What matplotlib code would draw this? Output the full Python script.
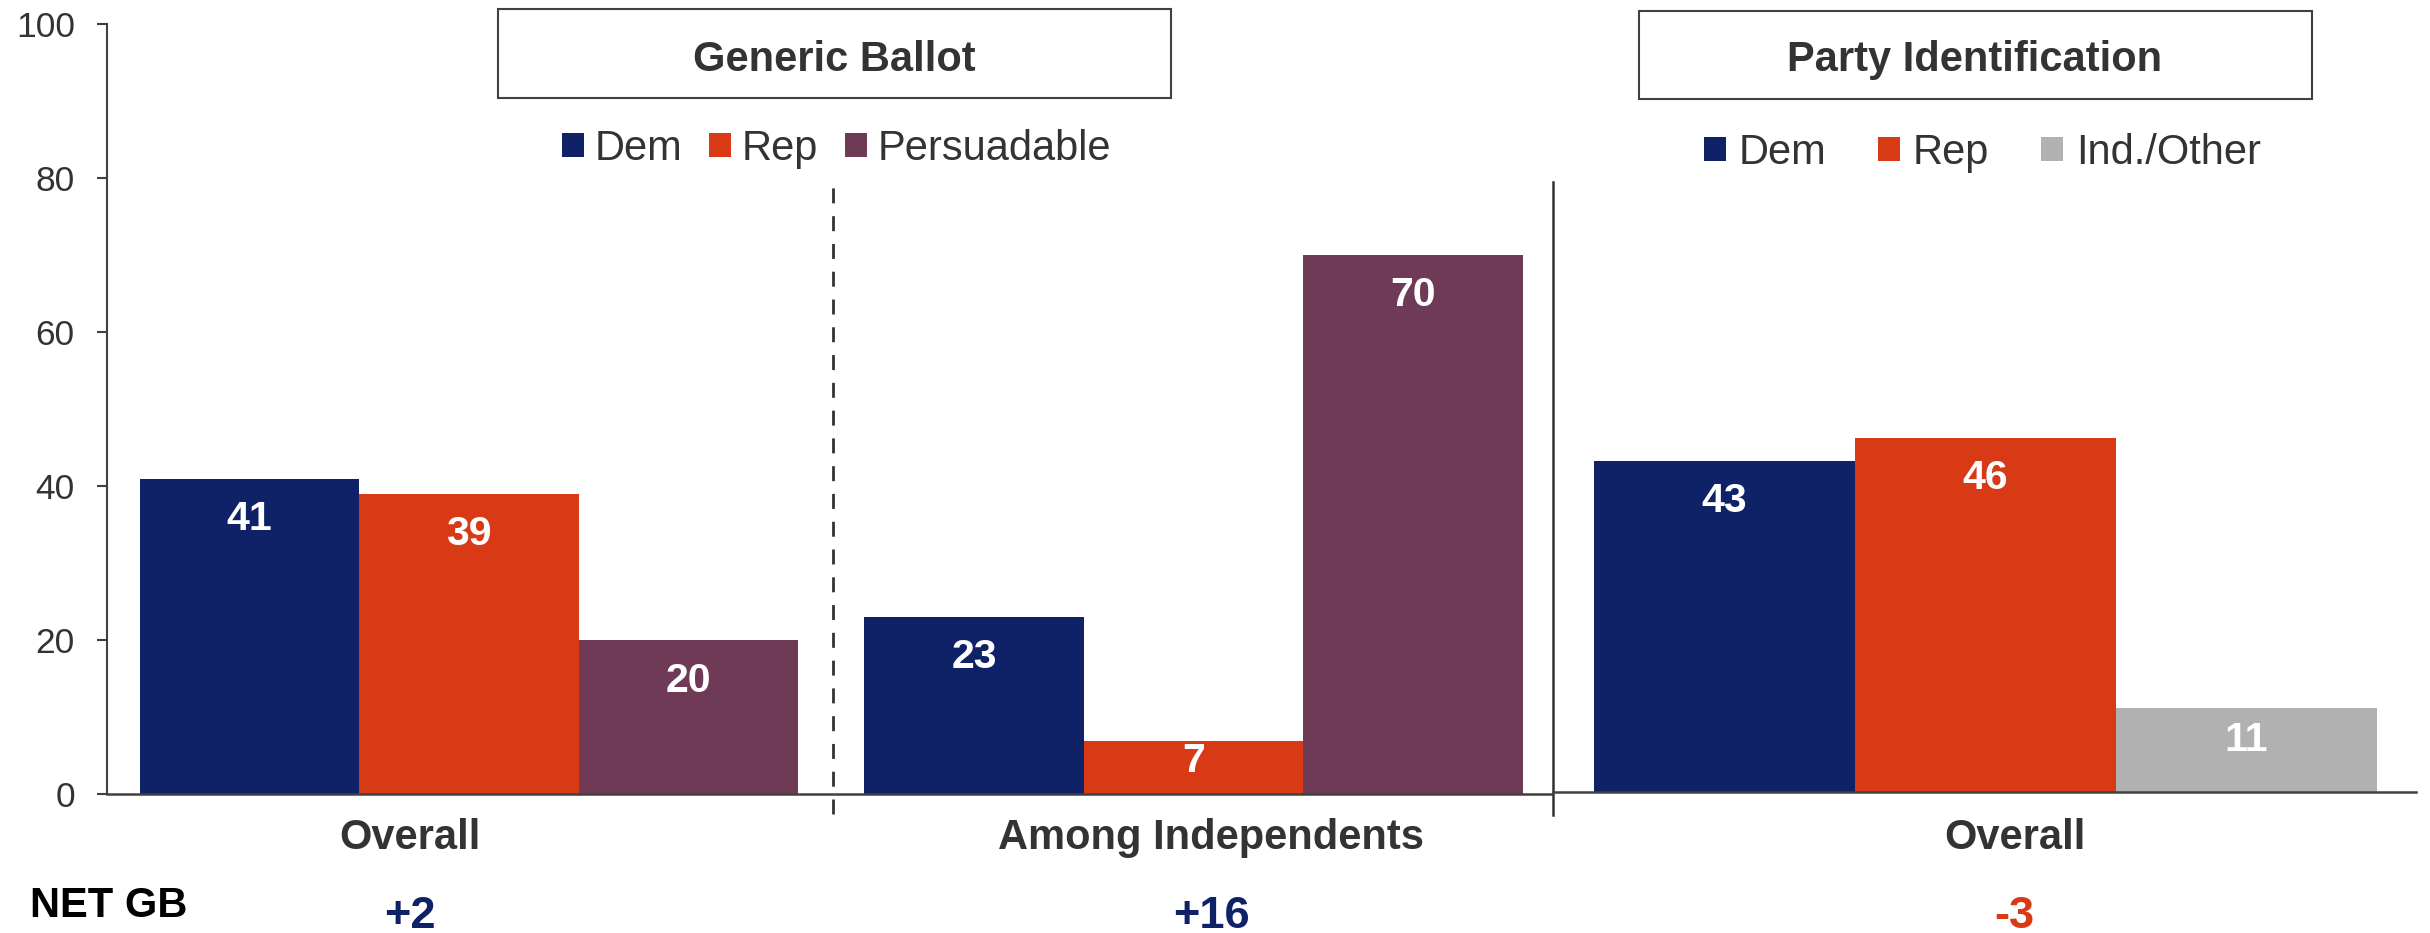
import matplotlib.pyplot as plt
import matplotlib.transforms as mtransforms
from matplotlib.patches import Rectangle
import numpy as np

plt.rcParams['font.family'] = ['Liberation Sans', 'DejaVu Sans']

# Generic ballot panel
gb_categories = ["Overall", "Among Independents"]
gb_series = ["Dem", "Rep", "Persuadable"]
gb_dem = [41, 23]
gb_rep = [39, 7]
gb_persuadable = [20, 70]

# Party identification panel
pid_categories = ["Overall"]
pid_series = ["Dem", "Rep", "Ind./Other"]
pid_dem = [43]
pid_rep = [46]
pid_other = [11]

net_gb = ["+2", "+16", "-3"]

DEM = "#0F2167"
REP = "#D83A16"
PERS = "#6F3A56"
OTHER = "#B1B1B1"
TXT = "#333333"
LINE = "#404040"


def bar_labels(ax, bars, vals):
    for b, v in zip(bars, vals):
        y = v - min(5.2, v * 0.38)
        ax.text(b.get_x() + b.get_width() / 2, y, str(v), ha="center", va="center",
                color="white", fontsize=29.5, fontweight="bold")


fig = plt.figure(figsize=(24.3, 9.33), dpi=100)
ax1 = fig.add_axes([0.04403, 0.14845, 0.59424, 0.82551])
ax2 = fig.add_axes([0.63909, 0.15080, 0.35514, 0.82551])

# left panel bars
gb_x = np.array([1.65, 4.95])
for i, (vals, name, col) in enumerate(zip([gb_dem, gb_rep, gb_persuadable], gb_series, [DEM, REP, PERS])):
    bars = ax1.bar(gb_x + (i - 1), vals, width=1.0, color=col, label=name)
    bar_labels(ax1, bars, vals)

ax1.set_xlim(0, 6.578)
ax1.set_ylim(0, 100)
ax1.set_yticks(range(0, 101, 20))
ax1.set_xticks([])
for s in ["top", "right"]:
    ax1.spines[s].set_visible(False)
ax1.spines["left"].set_color(LINE)
ax1.spines["left"].set_linewidth(1.5)
ax1.spines["bottom"].set_color(LINE)
ax1.spines["bottom"].set_linewidth(1.8)
ax1.tick_params(axis="y", length=7.2, width=1.5, pad=16, labelsize=25.5, color=LINE, labelcolor=TXT)
ax1.axvline(3.307, ymin=-0.0253, ymax=0.795, clip_on=False, color=TXT, lw=2.0, ls=(0, (5.4, 4.6)))

# right panel bars
pid_x = np.array([1.657])
for i, (vals, name, col) in enumerate(zip([pid_dem, pid_rep, pid_other], pid_series, [DEM, REP, OTHER])):
    bars = ax2.bar(pid_x + (i - 1), vals, width=1.0, color=col, label=name)
    bar_labels(ax2, bars, vals)

ax2.set_xlim(0, 3.307)
ax2.set_ylim(0, 100)
ax2.set_xticks([])
ax2.set_yticks([])
for s in ["top", "right", "left"]:
    ax2.spines[s].set_visible(False)
ax2.spines["bottom"].set_color(LINE)
ax2.spines["bottom"].set_linewidth(1.8)
ax2.axvline(0, ymin=-0.029, ymax=0.792, clip_on=False, color=TXT, lw=1.8)

# legends
ax1.legend(loc="center", bbox_to_anchor=(0.3442, 0.8405), bbox_transform=fig.transFigure,
           ncol=3, frameon=False, fontsize=30, handlelength=0.53, handleheight=0.53,
           handletextpad=0.25, columnspacing=0.65, borderpad=0, borderaxespad=0, labelcolor=TXT)
ax2.legend(loc="center", bbox_to_anchor=(0.8158, 0.8362), bbox_transform=fig.transFigure,
           ncol=3, frameon=False, fontsize=30, handlelength=0.53, handleheight=0.53,
           handletextpad=0.3, columnspacing=1.25, borderpad=0, borderaxespad=0, labelcolor=TXT)

# panel titles in boxes
fig.add_artist(Rectangle((498 / 2430, 1 - 97.7 / 933), 673 / 2430, 88.4 / 933,
                         transform=fig.transFigure, fill=False, ec=LINE, lw=1.5))
fig.add_artist(Rectangle((1639 / 2430, 1 - 99.3 / 933), 673 / 2430, 88.3 / 933,
                         transform=fig.transFigure, fill=False, ec=LINE, lw=1.5))
fig.text(834 / 2430, 1 - 70.7 / 933, "Generic Ballot", ha="center", va="baseline",
         fontsize=30, fontweight="bold", color=TXT)
fig.text(1974.5 / 2430, 1 - 71 / 933, "Party Identification", ha="center", va="baseline",
         fontsize=30, fontweight="bold", color=TXT)

# category labels and net values
t1 = mtransforms.blended_transform_factory(ax1.transData, fig.transFigure)
t2 = mtransforms.blended_transform_factory(ax2.transData, fig.transFigure)
cat_pos = [(t1, 1.38), (t1, 5.03), (t2, 1.769)]
net_colors = [DEM, DEM, REP]
for (tr, x), cat, net, c in zip(cat_pos, gb_categories + pid_categories, net_gb, net_colors):
    fig.text(x, 1 - 849 / 933, cat, transform=tr, ha="center", va="baseline",
             fontsize=30, fontweight="bold", color=TXT)
    fig.text(x, 1 - 928 / 933, net, transform=tr, ha="center", va="baseline",
             fontsize=32.5, fontweight="bold", color=c)
fig.text(108.5 / 2430, 1 - 917 / 933, "NET GB", ha="center", va="baseline",
         fontsize=30, fontweight="bold", color="black")

fig.savefig("out.png", dpi=100)
